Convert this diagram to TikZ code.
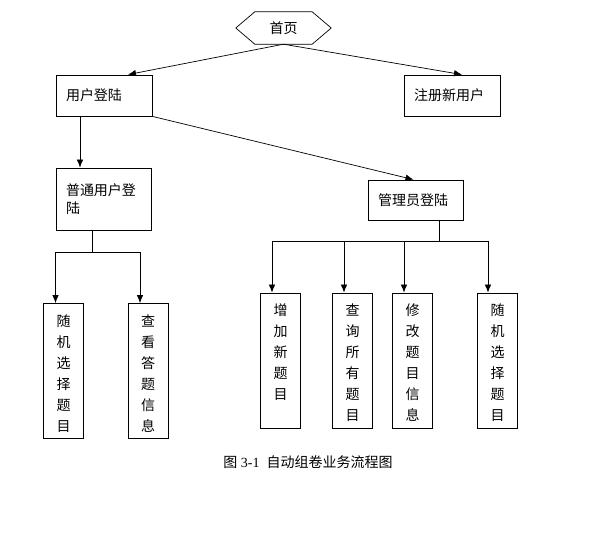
\documentclass[tikz,border=0pt]{standalone}
\usepackage{fontspec}
\setmainfont{Liberation Serif}
\newfontfamily\cjk{Noto Sans CJK SC}
\usetikzlibrary{arrows.meta}

\begin{document}
\begin{tikzpicture}[x=1pt,y=-1pt,
	every node/.style={font=\cjk\fontsize{14}{18.5}\selectfont},
	hbox/.style={rectangle,draw,line width=0.8pt,inner xsep=10pt,inner ysep=0pt,align=left,minimum height=41pt},
	vbox/.style={rectangle,draw,line width=0.8pt,minimum width=40pt,minimum height=135pt,inner sep=0pt},
	vtext/.style={anchor=north,inner sep=0pt,align=center,font=\cjk\fontsize{14}{21}\selectfont},
	arr/.style={-{Latex[length=8pt,width=6.5pt]},line width=0.7pt}]
		\useasboundingbox (0,0) rectangle (598,538);

		% top of the flow
		\draw (283.5,28) node (home) [minimum width=95pt,minimum height=32pt,inner sep=0pt] {首页};
		\draw[line width=0.7pt] (home.west) -- ([xshift=19pt]home.north west) -- ([xshift=-19pt]home.north east) -- (home.east) -- ([xshift=-19pt]home.south east) -- ([xshift=19pt]home.south west) -- cycle;

		\draw (104,95.5) node (user) [hbox,text width=76pt] {用户登陆};
		\draw (452,95.5) node (reg) [hbox,text width=76pt] {注册新用户};
		\draw (103.5,199) node (normal) [hbox,text width=75pt,minimum height=62pt] {普通用户登\\陆};
		\draw (415.5,200) node (admin) [hbox,text width=75pt,minimum height=40pt] {管理员登陆};

		\draw[arr] (home.south) -- ([xshift=24pt]user.north);
		\draw[arr] (home.south) -- ([xshift=10pt]reg.north);
		\draw[arr] (user.south east) -- ([xshift=-2pt]admin.north);
		\draw[arr] ([xshift=-24pt]user.south) -- ([xshift=-24pt]user.south |- normal.north);

		% ordinary user
		\draw (63.5,371) node (randa) [vbox] {};
		\draw (148,371) node (view) [vbox] {};
		\draw ([yshift=-11pt]randa.north) node (randat) [vtext] {随\\机\\选\\择\\题\\目};
		\draw ([yshift=-11pt]view.north) node (viewt) [vtext] {查\\看\\答\\题\\信\\息};

		\coordinate (nsplit) at (92,252);
		\draw[line width=0.7pt] ([xshift=-11.5pt]normal.south) -- (nsplit);
		\draw[arr] (nsplit) -| ([xshift=-8pt]randa.north);
		\draw[arr] (nsplit) -| ([xshift=-8pt]view.north);

		% administrator
		\draw (280.5,360.5) node (addq) [vbox] {};
		\draw (352.5,360.5) node (listq) [vbox] {};
		\draw (412.5,360.5) node (editq) [vbox] {};
		\draw (497.5,360.5) node (randb) [vbox] {};
		\draw ([yshift=-11pt]addq.north) node (addqt) [vtext] {增\\加\\新\\题\\目};
		\draw ([yshift=-11pt]listq.north) node (listqt) [vtext] {查\\询\\所\\有\\题\\目};
		\draw ([yshift=-11pt]editq.north) node (editqt) [vtext] {修\\改\\题\\目\\信\\息};
		\draw ([yshift=-11pt]randb.north) node (randbt) [vtext] {随\\机\\选\\择\\题\\目};

		\coordinate (asplit) at (439,241);
		\draw[line width=0.7pt] ([xshift=23.5pt]admin.south) -- (asplit);
		\draw[arr] (asplit) -| ([xshift=-8.5pt]addq.north);
		\draw[arr] (asplit) -| ([xshift=-8.5pt]listq.north);
		\draw[arr] (asplit) -| ([xshift=-8.5pt]editq.north);
		\draw[arr] (asplit) -| ([xshift=-9.5pt]randb.north);

		\draw (308,462) node (cap) [font=\fontsize{14}{14}\selectfont] {{\cjk 图} 3-1\ \ {\cjk 自动组卷业务流程图}};
	\end{tikzpicture}
\end{document}
